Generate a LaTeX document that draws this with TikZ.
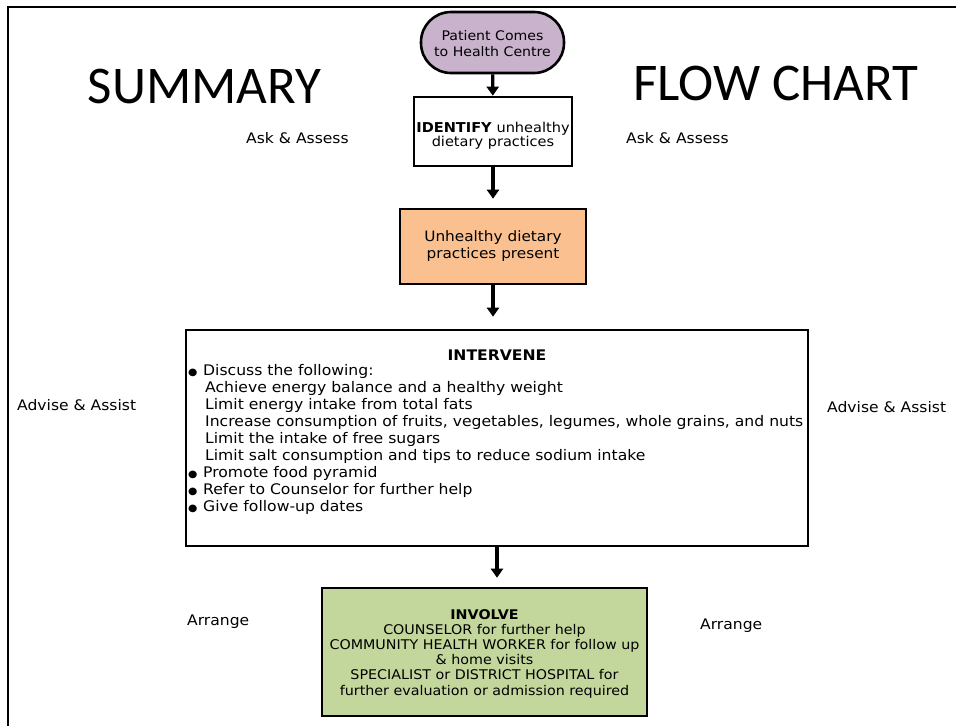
\documentclass[tikz,border=0pt]{standalone}
\usepackage{fontspec}
\setmainfont{DejaVu Sans}[FakeStretch=1.07]
\newfontfamily\titlefont{Carlito}
\usetikzlibrary{arrows.meta}
\definecolor{lav}{HTML}{C8B2CC}
\definecolor{peach}{HTML}{FAC090}
\definecolor{olivebox}{HTML}{C3D69B}
\newcommand{\bul}{\makebox[15pt][l]{\fontsize{10}{10}\selectfont ●}}
\newcommand{\ind}{\hspace*{17pt}}
\begin{document}
\begin{tikzpicture}[x=1pt,y=-1pt,
  box/.style={draw=black, line width=2.6pt, inner sep=0pt, align=center},
  txt/.style={inner sep=0pt, align=center},
  arr/.style={line width=3.2pt, -{Triangle[width=12pt,length=9pt]}},
  side/.style={font=\fontsize{14.55}{17}\selectfont, anchor=base west, inner sep=0pt},
  title/.style={font=\titlefont\fontsize{53}{60}\selectfont, anchor=base, inner sep=0pt}]
\useasboundingbox (0,0) rectangle (956,726);
\draw[line width=2.4pt] (8,726) coordinate (fb) -- (8,7) coordinate (ftl) -- (956,7) coordinate (ftr);

\node[title] (t1) at (204.5,103) {SUMMARY};
\node[title] (t2) at (776,100) {FLOW CHART};

\node[side] (aa1) at (246,143) {Ask \& Assess};
\node[side] (aa2) at (626,143) {Ask \& Assess};
\node[side] (ad1) at (17,410) {Advise \& Assist};
\node[side] (ad2) at (827,412) {Advise \& Assist};
\node[side] (ar1) at (187,625) {Arrange};
\node[side] (ar2) at (700,629) {Arrange};

\node[box, fill=lav, rounded corners=30pt, minimum width=143pt, minimum height=61pt] (start) at (492.5,42.5) {};
\node[txt, font=\fontsize{13.2}{16}\selectfont] (starttext) at (492.5,44) {Patient Comes\\to Health Centre};
\node[box, fill=white, minimum width=158pt, minimum height=69pt] (identify) at (493,131.5) {};
\node[txt, font=\fontsize{13.6}{14.5}\selectfont] (identifytext) at (493,135.5) {\textbf{IDENTIFY} unhealthy\\dietary practices};
\node[box, font=\fontsize{14.3}{17}\selectfont, fill=peach, minimum width=186pt, minimum height=75pt] (present) at (493,246.5) {Unhealthy dietary\\practices present};
\node[box, fill=white, minimum width=622pt, minimum height=216pt] (intervene) at (497,438) {};
\node[txt, font=\fontsize{14.6}{17}\selectfont, anchor=base] (intervenehead) at (497,360) {\textbf{INTERVENE}};
\node[txt, font=\fontsize{14.6}{17}\selectfont, anchor=north west, align=left] (intervenetext) at (188,364) {%
\bul Discuss the following:\\
\ind Achieve energy balance and a healthy weight\\
\ind Limit energy intake from total fats\\
\ind Increase consumption of fruits, vegetables, legumes, whole grains, and nuts\\
\ind Limit the intake of free sugars\\
\ind Limit salt consumption and tips to reduce sodium intake\\
\bul Promote food pyramid\\
\bul Refer to Counselor for further help\\
\bul Give follow-up dates};
\node[box, fill=olivebox, minimum width=325pt, minimum height=128pt] (involve) at (484.5,652) {};
\node[txt, font=\fontsize{13.35}{15.2}\selectfont] (involvetext) at (484.5,653.5) {\textbf{INVOLVE}\\COUNSELOR for further help\\COMMUNITY HEALTH WORKER for follow up\\\& home visits\\SPECIALIST or DISTRICT HOSPITAL for\\further evaluation or admission required};

\draw[arr] (start) -- (identify);
\draw[arr, shorten >=9pt] (identify) -- (present);
\draw[arr, shorten >=12pt] (present.south) -- (present.south |- intervene.north);
\draw[arr, shorten >=9pt] (intervene.south) -- (intervene.south |- involve.north);
\end{tikzpicture}
\end{document}
